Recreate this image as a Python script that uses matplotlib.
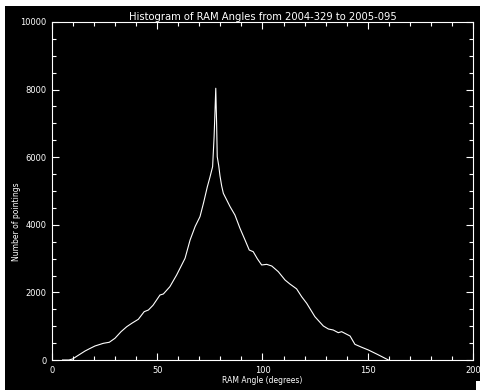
import matplotlib
matplotlib.use("Agg")
import matplotlib.pyplot as plt
from matplotlib.patches import Rectangle
from matplotlib.ticker import MultipleLocator

# Histogram values (angle in degrees, counts)
angle = [5, 8, 9.8, 12, 15.7, 18, 20.4, 24.4, 27.2, 29.9, 32.8, 35.5, 38, 41,
         43.8, 45.8, 48, 51.3, 52.9, 56, 59.2, 63.2, 65.6, 68, 70.3, 72,
         73.8, 75, 76.3, 77, 77.4, 77.8, 78.2, 78.5, 79.2, 79.8, 80.6, 81.4,
         83, 84.6, 86.9, 89.3, 91.7, 93.7, 95.6, 97.5, 99.6, 102, 104.4,
         107.5, 110.7, 113, 116.2, 118.6, 121, 124.9, 128.9, 131.3, 133.6,
         136, 137.6, 141.6, 143.9, 147, 150.3, 154.2, 157, 159.8]
counts = [0, 0, 30, 120, 266, 340, 414, 494, 524, 642, 838, 985, 1090, 1204,
          1430, 1479, 1620, 1923, 1953, 2169, 2515, 3008, 3550, 3950, 4240,
          4650, 5127, 5400, 5720, 6600, 7300, 8040, 7000, 6015, 5750, 5450,
          5150, 4931, 4734, 4536, 4290, 3896, 3550, 3254, 3204, 3000, 2811,
          2830, 2781, 2613, 2367, 2249, 2105, 1873, 1677, 1281, 1006, 917,
          888, 808, 838, 710, 464, 380, 296, 178, 90, 0]

fig = plt.figure(figsize=(4.81, 3.9), dpi=100, facecolor="white")
# black plotting window with white margin at top and left
fig.patches.append(Rectangle((5 / 481, 0), 1, 1 - 6 / 390, transform=fig.transFigure,
                             facecolor="black", edgecolor="none", zorder=-10))
fig.patches.append(Rectangle((476 / 481, 0), 5 / 481, 9 / 390, transform=fig.transFigure,
                             facecolor="white", edgecolor="none", zorder=-5))

ax = fig.add_axes([52 / 481, 1 - 360 / 390, 421 / 481, 338 / 390])
ax.set_facecolor("black")
ax.plot(angle, counts, color="white", linewidth=0.8)

ax.set_xlim(0, 200)
ax.set_ylim(0, 10000)
ax.xaxis.set_major_locator(MultipleLocator(50))
ax.xaxis.set_minor_locator(MultipleLocator(10))
ax.yaxis.set_major_locator(MultipleLocator(2000))
ax.yaxis.set_minor_locator(MultipleLocator(500))

for s in ax.spines.values():
    s.set_color("white")
    s.set_linewidth(0.8)
ax.tick_params(which="both", direction="in", colors="white", top=True, right=True,
               labelsize=6, width=0.8)
ax.tick_params(which="major", length=5, pad=4)
ax.tick_params(which="minor", length=3)

ax.set_title("Histogram of RAM Angles from 2004-329 to 2005-095", color="white",
             fontsize=7.2, pad=1.5)
ax.set_xlabel("RAM Angle (degrees)", color="white", fontsize=5.5, labelpad=1)
fig.text(17 / 481, 1 - 222 / 390, "Number of pointings", color="white",
         fontsize=5.5, rotation=90, ha="center", va="center")

fig.savefig("out.png", dpi=100, facecolor=fig.get_facecolor())
